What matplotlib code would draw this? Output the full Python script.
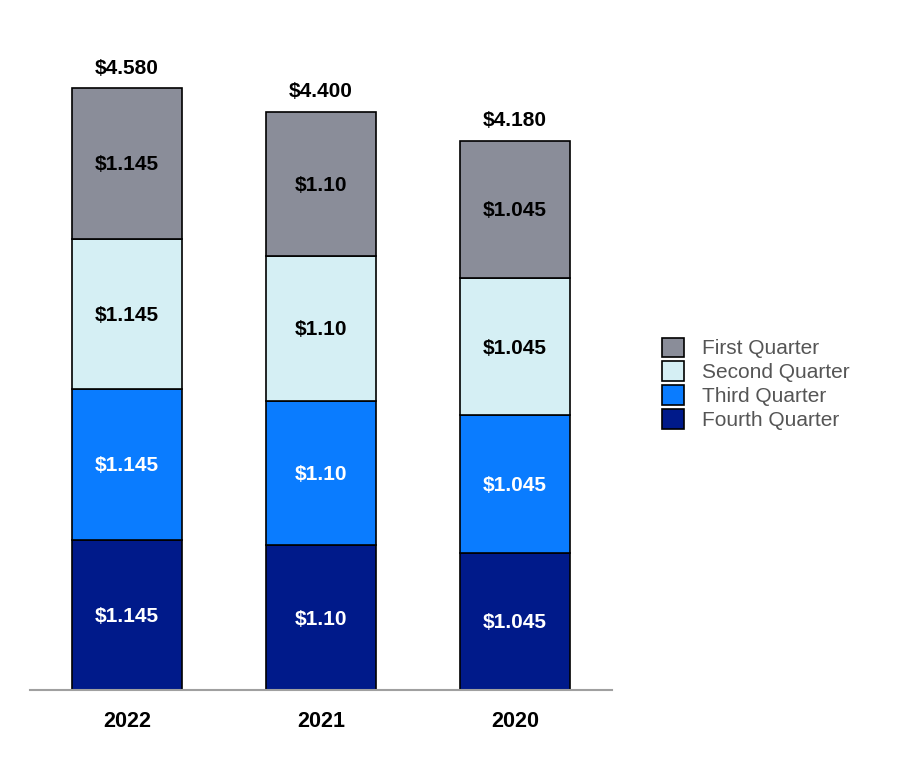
import matplotlib.pyplot as plt
import numpy as np

plt.rcParams['font.family'] = ['Liberation Sans', 'DejaVu Sans']

years = ['2022', '2021', '2020']
quarters = ['Fourth Quarter', 'Third Quarter', 'Second Quarter', 'First Quarter']
fourth = [1.145, 1.10, 1.045]
third = [1.145, 1.10, 1.045]
second = [1.145, 1.10, 1.045]
first = [1.145, 1.10, 1.045]
seg_labels = ['$1.145', '$1.10', '$1.045']
totals = [4.580, 4.400, 4.180]
total_labels = ['$4.580', '$4.400', '$4.180']

colors = ['#001a8a', '#0a7cff', '#d5eff4', '#8a8d99']
text_colors = ['white', 'white', 'black', 'black']

fig = plt.figure(figsize=(9, 7.6), dpi=100)
ax = fig.add_axes([0.0333, 0.0921, 0.6467, 0.8645])

x = np.arange(len(years))
bottom = np.zeros(len(years))
series = [fourth, third, second, first]
handles = []
for vals, c, tc, name in zip(series, colors, text_colors, quarters):
    b = ax.bar(x, vals, width=0.567, bottom=bottom, color=c, edgecolor='black',
               linewidth=1.2, label=name)
    handles.append(b)
    for i in range(len(years)):
        ax.text(x[i], bottom[i] + vals[i] / 2 - 0.01, seg_labels[i], ha='center', va='center',
                color=tc, fontsize=15, fontweight='bold')
    bottom += np.array(vals)

for i in range(len(years)):
    ax.text(x[i], totals[i] + 0.08, total_labels[i], ha='center', va='bottom',
            fontsize=15, fontweight='bold')

ax.set_xlim(-0.5, 2.5)
ax.set_ylim(0, 5)
for s in ['top', 'right', 'left']:
    ax.spines[s].set_visible(False)
ax.spines['bottom'].set_color('#a0a0a0')
ax.spines['bottom'].set_linewidth(1.5)
ax.set_yticks([])
ax.set_xticks(x)
ax.set_xticklabels(years, fontsize=15.5, fontweight='bold')
ax.tick_params(axis='x', length=0, pad=15)

leg = fig.legend(handles[::-1], quarters[::-1], loc='center left',
                 bbox_to_anchor=(0.736, 0.495), frameon=False, fontsize=15,
                 handlelength=1.05, handleheight=1.05, handletextpad=0.85,
                 labelspacing=0.15, borderaxespad=0, borderpad=0)
for t in leg.get_texts():
    t.set_color('#555555')

fig.savefig('out.png', dpi=100)
